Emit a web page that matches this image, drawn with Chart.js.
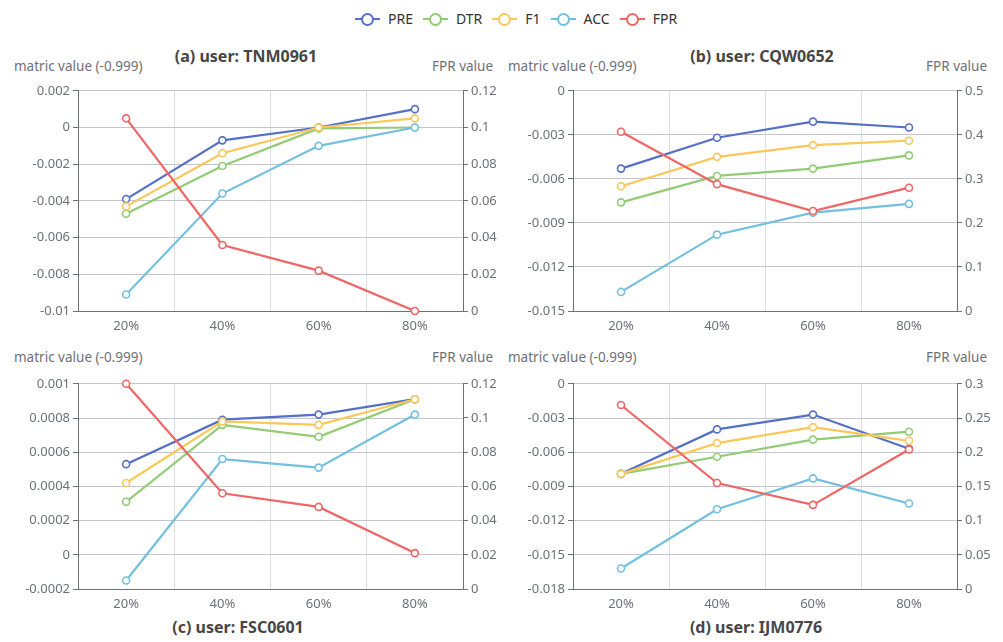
<!DOCTYPE html>
<html>
<head>
<meta charset="utf-8">
<script src="https://cdn.jsdelivr.net/npm/chart.js@4.4.1/dist/chart.umd.min.js"></script>
<style>
  body { margin: 0; background: #fff; font-family: "Noto Sans", sans-serif; }
  #wrap { position: relative; width: 1003px; height: 642px; overflow: hidden; }
  canvas { position: absolute; }
  .txt { position: absolute; white-space: nowrap; font-size: 13.5px; color: #6E7079; line-height: 16px; }
  .title { position: absolute; white-space: nowrap; font-size: 16px; font-weight: bold; color: #464646; line-height: 20px; transform: translateX(-50%); }
  #legend { position: absolute; left: 355px; top: 9px; display: flex; align-items: center; font-size: 14px; color: #333; }
  .item { display: flex; align-items: center; margin-right: 10px; }
  .icon { position: relative; width: 25px; height: 14px; margin-right: 8px; }
  .icon .ln { position: absolute; left: 0; top: 6px; width: 25px; height: 2px; }
  .icon .dot { position: absolute; left: 6px; top: 1px; width: 9px; height: 9px; border-radius: 50%; border: 2px solid; background: #fff; }
</style>
</head>
<body>
<div id="wrap">
  <div id="legend"></div>

  <div class="title" style="left:246px; top:46px;">(a) user: TNM0961</div>
  <div class="title" style="left:762px; top:46px;">(b) user: CQW0652</div>
  <div class="title" style="left:238px; top:617px;">(c) user: FSC0601</div>
  <div class="title" style="left:756px; top:617px;">(d) user: IJM0776</div>

  <div class="txt" style="left:14px; top:58px;">matric value (-0.999)</div>
  <div class="txt" style="right:510px; top:58px;">FPR value</div>
  <div class="txt" style="left:508px; top:58px;">matric value (-0.999)</div>
  <div class="txt" style="right:16px; top:58px;">FPR value</div>
  <div class="txt" style="left:14px; top:349px;">matric value (-0.999)</div>
  <div class="txt" style="right:510px; top:349px;">FPR value</div>
  <div class="txt" style="left:508px; top:349px;">matric value (-0.999)</div>
  <div class="txt" style="right:16px; top:349px;">FPR value</div>

  <canvas id="chartA" width="500" height="260" style="left:0; top:80px;"></canvas>
  <canvas id="chartB" width="503" height="260" style="left:500px; top:80px;"></canvas>
  <canvas id="chartC" width="500" height="247" style="left:0; top:373px;"></canvas>
  <canvas id="chartD" width="503" height="247" style="left:500px; top:373px;"></canvas>
</div>

<script>
const categories = ['20%', '40%', '60%', '80%'];
const seriesNames = ['PRE', 'DTR', 'F1', 'ACC', 'FPR'];
const seriesColors = ['#5470c6', '#91cc75', '#fac858', '#73c0de', '#ee6666'];

// user TNM0961
const preA = [-0.0039, -0.0007, 0, 0.001];
const dtrA = [-0.0047, -0.0021, -0.00005, 0];
const f1A  = [-0.0043, -0.0014, 0, 0.0005];
const accA = [-0.0091, -0.0036, -0.001, 0];
const fprA = [0.105, 0.036, 0.022, 0];

// user CQW0652
const preB = [-0.0053, -0.0032, -0.0021, -0.0025];
const dtrB = [-0.0076, -0.0058, -0.0053, -0.0044];
const f1B  = [-0.0065, -0.0045, -0.0037, -0.0034];
const accB = [-0.0137, -0.0098, -0.0083, -0.0077];
const fprB = [0.407, 0.288, 0.227, 0.28];

// user FSC0601
const preC = [0.00053, 0.00079, 0.00082, 0.00091];
const dtrC = [0.00031, 0.00076, 0.00069, 0.00091];
const f1C  = [0.00042, 0.00078, 0.00076, 0.00091];
const accC = [-0.00015, 0.00056, 0.00051, 0.00082];
const fprC = [0.12, 0.056, 0.048, 0.021];

// user IJM0776
const preD = [-0.0079, -0.004, -0.0027, -0.0057];
const dtrD = [-0.0079, -0.0064, -0.0049, -0.0042];
const f1D  = [-0.0079, -0.0052, -0.0038, -0.005];
const accD = [-0.0162, -0.011, -0.0083, -0.0105];
const fprD = [0.269, 0.155, 0.123, 0.204];

// axis ranges [min, max, step]
const leftA = [-0.01, 0.002, 0.002],  rightA = [0, 0.12, 0.02];
const leftB = [-0.015, 0, 0.003],     rightB = [0, 0.5, 0.1];
const leftC = [-0.0002, 0.001, 0.0002], rightC = [0, 0.12, 0.02];
const leftD = [-0.018, 0, 0.003],     rightD = [0, 0.3, 0.05];

const axisColor = '#6E7079';
const fontSpec = { family: '"Noto Sans", sans-serif', size: 13 };

// html legend
const legendEl = document.getElementById('legend');
seriesNames.forEach((name, i) => {
  const item = document.createElement('div');
  item.className = 'item';
  item.innerHTML = '<div class="icon"><div class="ln" style="background:' + seriesColors[i] + '"></div>' +
    '<div class="dot" style="border-color:' + seriesColors[i] + '"></div></div><span>' + name + '</span>';
  legendEl.appendChild(item);
});

function fmt(v) {
  return String(+v.toFixed(6));
}

function makeChart(id, values, left, right, sizes) {
  const datasets = values.map((data, i) => ({
    label: seriesNames[i],
    data: data,
    yAxisID: i === 4 ? 'y1' : 'y',
    borderColor: seriesColors[i],
    backgroundColor: '#fff',
    pointBackgroundColor: '#fff',
    pointBorderColor: seriesColors[i],
    borderWidth: 2.2,
    pointRadius: 3.5,
    pointBorderWidth: 1.6,
    tension: 0,
    clip: false,
    order: 5 - i
  }));

  new Chart(document.getElementById(id), {
    type: 'line',
    data: { labels: categories, datasets: datasets },
    options: {
      responsive: false,
      animation: false,
      layout: { padding: { top: 10, left: 0, right: 0, bottom: 0 } },
      plugins: { legend: { display: false }, tooltip: { enabled: false } },
      scales: {
        x: {
          type: 'category',
          offset: true,
          grid: { offset: true, color: '#dcdfe6', drawTicks: false },
          border: { color: axisColor },
          ticks: { color: axisColor, font: fontSpec, padding: 7, maxRotation: 0 },
          afterFit: s => { s.height = sizes.bottom; }
        },
        y: {
          position: 'left',
          min: left[0], max: left[1],
          grid: { color: '#c3c6ce', tickLength: 5, tickColor: axisColor },
          border: { color: axisColor },
          ticks: { stepSize: left[2], color: axisColor, font: fontSpec, padding: 3, callback: fmt },
          afterFit: s => { s.width = sizes.left; }
        },
        y1: {
          position: 'right',
          min: right[0], max: right[1],
          grid: { drawOnChartArea: false, tickLength: 5, tickColor: axisColor },
          border: { color: axisColor },
          ticks: { stepSize: right[2], color: axisColor, font: fontSpec, padding: 3, callback: fmt },
          afterFit: s => { s.width = sizes.right; }
        }
      }
    }
  });
}

makeChart('chartA', [preA, dtrA, f1A, accA, fprA], leftA, rightA, { left: 78, right: 37, bottom: 29 });
makeChart('chartB', [preB, dtrB, f1B, accB, fprB], leftB, rightB, { left: 73, right: 46, bottom: 29 });
makeChart('chartC', [preC, dtrC, f1C, accC, fprC], leftC, rightC, { left: 78, right: 37, bottom: 31 });
makeChart('chartD', [preD, dtrD, f1D, accD, fprD], leftD, rightD, { left: 73, right: 46, bottom: 31 });
</script>
</body>
</html>
